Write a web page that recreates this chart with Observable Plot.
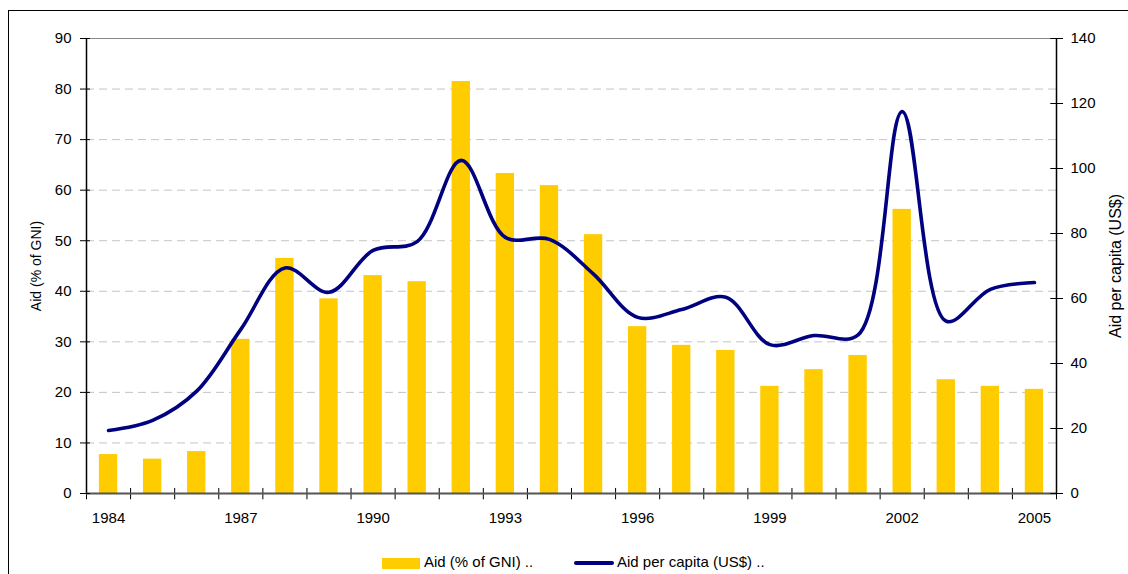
<!DOCTYPE html>
<html><head><meta charset="utf-8">
<script src="https://cdn.jsdelivr.net/npm/d3@7"></script>
<script src="https://cdn.jsdelivr.net/npm/@observablehq/plot@0.6"></script>
<style>
html,body{margin:0;padding:0;background:#fff;overflow:hidden}
#wrap{position:relative;width:1128px;height:574px;overflow:hidden;font-family:"Liberation Sans",Arial,sans-serif;color:#000}
#frame{position:absolute;left:8px;top:10px;width:1300px;height:800px;border:1.5px solid #000;box-sizing:border-box}
#chart{position:absolute;left:0;top:0}
#legend{position:absolute;left:0;top:548px;width:1128px;height:26px;font-size:15px}
.sw{position:absolute}
.lt{position:absolute;white-space:nowrap;line-height:18px}
</style>
</head><body>
<div id="wrap"><div id="frame"></div><div id="chart"></div><div id="legend"></div></div>
<script>
const years = [1984,1985,1986,1987,1988,1989,1990,1991,1992,1993,1994,1995,1996,1997,1998,1999,2000,2001,2002,2003,2004,2005];
const aidGni = [7.7,6.8,8.3,30.5,46.5,38.5,43.1,41.9,81.5,63.3,60.9,51.2,33.0,29.3,28.3,21.2,24.5,27.3,56.2,22.5,21.2,20.6];
const aidPerCapita = [19.4,22.5,31.5,50.5,69.4,61.9,74.8,77.5,102.5,78.8,78.2,67.5,54.2,56.6,60.4,45.8,48.6,48.8,117.5,53.0,62.8,64.9];
const xTickLabels = [1984,1987,1990,1993,1996,1999,2002,2005];
const leftTicks = [0,10,20,30,40,50,60,70,80,90];
const rightTicks = [0,20,40,60,80,100,120,140];
const gridValues = [10,20,30,40,50,60,70,80];
const seriesNames = ["Aid (% of GNI) ..", "Aid per capita (US$) .."];
const axisTitles = ["Aid (% of GNI)", "Aid per capita (US$)"];

const LEFT_MAX = 90, RIGHT_MAX = 140;
const toLeft = v => v * LEFT_MAX / RIGHT_MAX;
const data = years.map((y,i)=>({year:y, gni:aidGni[i], pc:aidPerCapita[i]}));
const boundaries = d3.range(years[0]-0.5, years[years.length-1]+0.51, 1);
const halfBar = 0.208;

const chart = Plot.plot({
  width: 1128, height: 548,
  marginLeft: 86, marginRight: 72, marginTop: 38, marginBottom: 55,
  style: {fontFamily: '"Liberation Sans", Arial, sans-serif', fontSize: "15px", background: "transparent", color: "#000", overflow: "visible"},
  x: {type: "linear", domain: [years[0]-0.5, years[years.length-1]+0.5], axis: null},
  y: {domain: [0, LEFT_MAX], axis: null},
  marks: [
    Plot.ruleY(gridValues, {stroke: "#c4c4c4", strokeWidth: 1, strokeDasharray: "8,5"}),
    Plot.ruleY([LEFT_MAX], {stroke: "#8a8a8a", strokeWidth: 1}),
    Plot.rectY(data, {x1: d=>d.year-halfBar, x2: d=>d.year+halfBar, y1: 0, y2: "gni", fill: "#FFCC00"}),
    Plot.line(data, {x: "year", y: d=>toLeft(d.pc), curve: "catmull-rom", stroke: "#000080", strokeWidth: 3.6, strokeLinejoin: "round", strokeLinecap: "round"}),
    // axis lines
    Plot.ruleX([years[0]-0.5], {y1: 0, y2: LEFT_MAX, stroke: "#000", strokeWidth: 1.5}),
    Plot.ruleX([years[years.length-1]+0.5], {y1: 0, y2: LEFT_MAX, stroke: "#000", strokeWidth: 1.5}),
    // x ticks at band boundaries, crossing the axis
    Plot.ruleX(boundaries, {y1: -1.25, y2: 1.0, stroke: "#000", strokeWidth: 1}),
    Plot.ruleY([0], {stroke: "#555", strokeWidth: 2.2}),
    // left y axis
    Plot.axisY(leftTicks, {anchor: "left", tickSize: 6, tickPadding: 9, label: null, fontSize: 15}),
    Plot.ruleY(leftTicks, {x1: years[0]-0.5, x2: years[0]-0.5+0.09, stroke: "#000"}),
    // right y axis (per capita), mapped onto the left scale
    Plot.axisY(rightTicks.map(toLeft), {anchor: "right", tickSize: 6, tickPadding: 8, label: null, tickFormat: d => String(Math.round(d*RIGHT_MAX/LEFT_MAX)), fontSize: 15}),
    Plot.ruleY(rightTicks.map(toLeft), {x1: years[years.length-1]+0.5-0.13, x2: years[years.length-1]+0.5, stroke: "#000"}),
    // x labels
    Plot.axisX(xTickLabels, {anchor: "bottom", tickSize: 0, tickPadding: 19, label: null, tickFormat: d=>String(d), fontSize: 15}),
    // axis titles
    Plot.text([axisTitles[0]], {frameAnchor: "left", dx: -50, rotate: -90, fontSize: 14, fill: "#000", textAnchor: "middle", lineAnchor: "middle"}),
    Plot.text([axisTitles[1]], {frameAnchor: "right", dx: 59, rotate: -90, fontSize: 16, fill: "#000", textAnchor: "middle", lineAnchor: "middle"})
  ]
});
document.getElementById("chart").appendChild(chart);

const lg = document.getElementById("legend");
lg.innerHTML =
  `<div class="sw" style="left:382px;top:10px;width:38px;height:11px;background:#FFCC00"></div>` +
  `<div class="lt" style="left:424px;top:5px">${seriesNames[0]}</div>` +
  `<div class="sw" style="left:574px;top:13px;width:40px;height:3.5px;background:#000080;border-radius:2px"></div>` +
  `<div class="lt" style="left:617px;top:5px">${seriesNames[1]}</div>`;
</script>
</body></html>
